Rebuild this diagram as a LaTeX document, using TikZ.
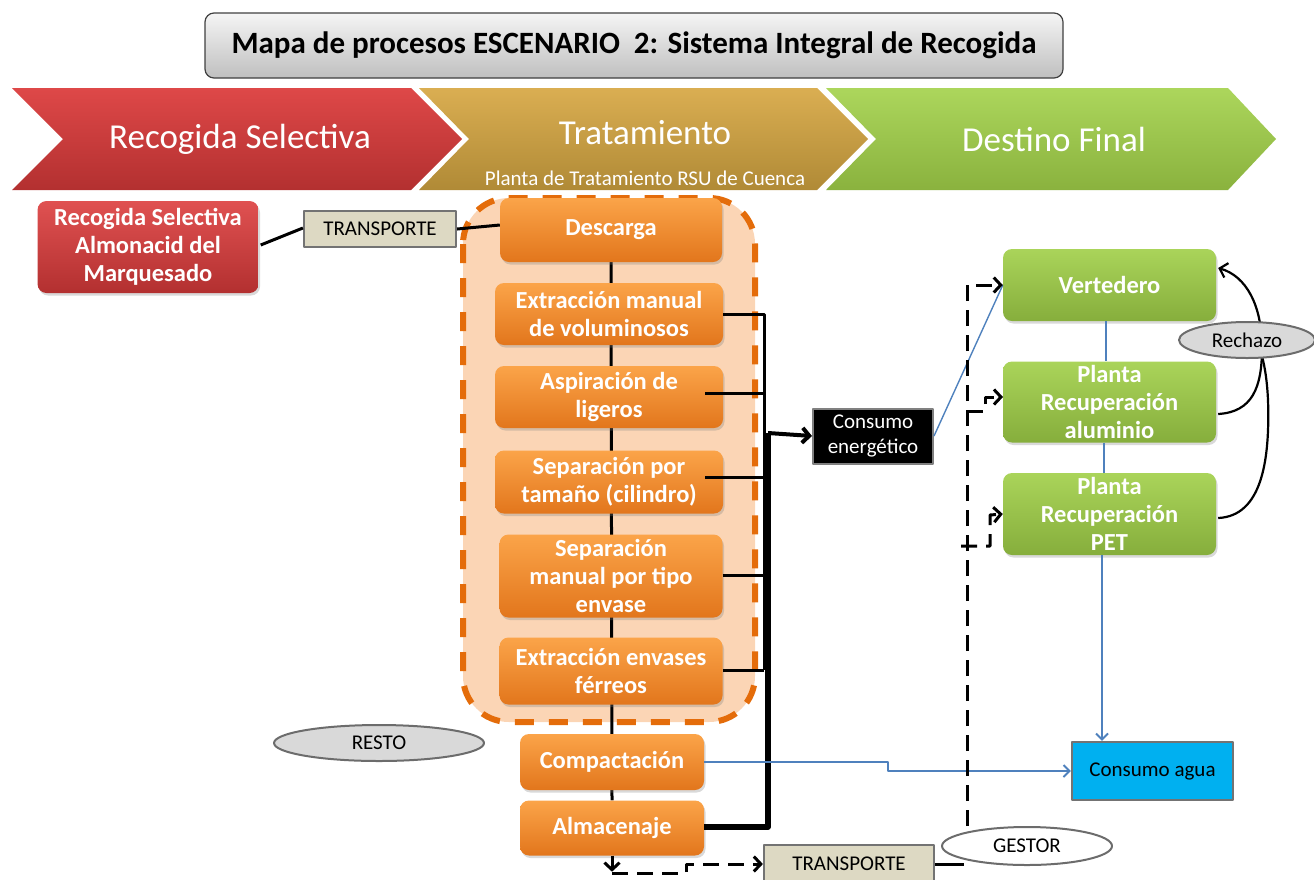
\documentclass[tikz,border=0pt]{standalone}
\usepackage{fontspec}
\setmainfont{Carlito}
\usetikzlibrary{arrows.meta,shadows,calc,backgrounds,shapes.geometric}
\definecolor{orgT}{HTML}{FBA449}
\definecolor{orgB}{HTML}{E2761C}
\definecolor{grnT}{HTML}{AAD45A}
\definecolor{grnB}{HTML}{86AE3C}
\definecolor{redT}{HTML}{DE4848}
\definecolor{redB}{HTML}{B33030}
\definecolor{tanT}{HTML}{DAAE52}
\definecolor{tanB}{HTML}{B08A36}
\definecolor{cgT}{HTML}{ACD65C}
\definecolor{cgB}{HTML}{8AB23E}
\definecolor{peach}{HTML}{FBD5B5}
\definecolor{odash}{HTML}{E46C0A}
\definecolor{blueL}{HTML}{4F81BD}
\definecolor{beige}{HTML}{DDD9C3}
\definecolor{cyanA}{HTML}{00B0F0}
\definecolor{lgray}{HTML}{D9D9D9}
\begin{document}
\begin{tikzpicture}[x=1pt,y=-1pt, line join=round,
  conn/.style={draw=black, line width=3pt},
  bus/.style={draw=black, line width=5.5pt},
  dashk/.style={draw=black, line width=3pt, dash pattern=on 16pt off 9pt},
  tipk/.style={-{Straight Barb[length=7pt,width=15pt]}},
  tipb/.style={-{Straight Barb[length=6pt,width=12pt]}},
  bl/.style={draw=blueL, line width=2pt},
  pbox/.style={rounded corners=9pt, text=white, font=\fontsize{24.5}{28}\selectfont\bfseries, align=center, inner sep=0pt, drop shadow={opacity=0.3,shadow xshift=1.5pt,shadow yshift=-2.5pt}},
  obox/.style={pbox, top color=orgT, bottom color=orgB},
  gbox/.style={pbox, top color=grnT, bottom color=grnB},
  rbox/.style={pbox, top color=redT!95!white, bottom color=redB},
  lab/.style={font=\fontsize{21}{25}\selectfont, align=center, inner sep=0pt},
  sqbox/.style={lab, draw=gray!90!black, line width=2.2pt, minimum height=36pt},
  ell/.style={ellipse, lab, draw=gray!85!black, line width=2pt},
  chev/.style={font=\fontsize{35}{38}\selectfont, text=white, inner sep=0pt}
]
\useasboundingbox (0,0) rectangle (1314,879);

% title
\node[rounded corners=9pt, top color=white!96!black, bottom color=black!25, draw=black!75, line width=1.2pt,
  minimum width=858pt, minimum height=65pt, inner sep=0pt, font=\fontsize{31}{34}\selectfont\bfseries] (title) at (634,45.5) {Mapa de procesos ESCENARIO\ \ 2: Sistema Integral de Recogida};

% chevrons
\shade[top color=redT, bottom color=redB] (12,88) -- (411,88) -- (462,139) -- (411,190) -- (12,190) -- (63,139) -- cycle;
\shade[top color=tanT, bottom color=tanB] (419,88) -- (817,88) -- (868,139) -- (817,190) -- (419,190) -- (469,139) -- cycle;
\shade[top color=cgT, bottom color=cgB] (826,88) -- (1228,88) -- (1276,139) -- (1228,190) -- (826,190) -- (876,139) -- cycle;
\node[chev] (c1) at (240,139) {Recogida Selectiva};
\node[chev] (c2) at (645,133) {Tratamiento};
\node[chev, font=\fontsize{21}{24}\selectfont] (c2b) at (645,178) {Planta de Tratamiento RSU de Cuenca};
\node[chev] (c3) at (1054,139) {Destino Final};

% left
\node[rbox, minimum width=221pt, minimum height=92pt] (rs) at (148,247) {Recogida Selectiva\\Almonacid del\\Marquesado};
\node[sqbox, fill=beige, minimum width=152pt] (tr1) at (380,229) {TRANSPORTE};

% process column
\node[obox, minimum width=222pt, minimum height=64pt] (b1) at (611,230) {Descarga};
\node[obox, minimum width=228pt, minimum height=62pt] (b2) at (609,314) {Extracción manual\\de voluminosos};
\node[obox, minimum width=228pt, minimum height=62pt] (b3) at (609,397) {Aspiración de\\ligeros};
\node[obox, minimum width=228pt, minimum height=63pt] (b4) at (609,482) {Separación por\\tamaño (cilindro)};
\node[obox, minimum width=223pt, minimum height=83pt] (b5) at (611,576) {Separación\\manual por tipo\\envase};
\node[obox, minimum width=223pt, minimum height=67pt] (b6) at (611,671) {Extracción envases\\férreos};
\node[obox, minimum width=184pt, minimum height=56pt] (b7) at (612,762) {Compactación};
\node[obox, minimum width=184pt, minimum height=55pt] (b8) at (612,828) {Almacenaje};

\begin{scope}[on background layer]
\draw[fill=peach, draw=odash, line width=6pt, dash pattern=on 19pt off 15pt, rounded corners=46pt] (463,198) rectangle (755,722);
\draw[conn] (b1.south) -- (b8.north);
\end{scope}

\node[lab, fill=black, text=white, draw=gray, line width=2pt, minimum width=120pt, minimum height=55pt] (energ) at (873,436) {Consumo\\energético};
\node[ell, fill=lgray, minimum width=210pt, minimum height=36pt] (resto) at (379,743) {RESTO};

% right column
\node[gbox, minimum width=213pt, minimum height=72pt] (vert) at (1109.5,285) {Vertedero};
\node[gbox, minimum width=213pt, minimum height=81pt] (alum) at (1109.5,402) {Planta\\Recuperación\\aluminio};
\node[gbox, minimum width=213pt, minimum height=82pt] (pet) at (1109.5,514) {Planta\\Recuperación\\PET};
\node[sqbox, fill=cyanA, minimum width=161pt, minimum height=58pt] (agua) at (1152.5,771) {Consumo agua};
\node[sqbox, fill=beige, minimum width=170pt, minimum height=38pt] (tr2) at (849,864) {TRANSPORTE};

% connectors top
\draw[conn] ($(rs.east)+(2,-2)$) -- ($(tr1.west)+(0,-1)$);
\draw[conn] (tr1.east) -- ($(b1.west)+(0,-5)$);

% bus lines
\coordinate (busT) at (764,314);
\coordinate (busB) at (764,670);
\draw[conn] (b2.east) -- (busT) -- (busB);
\draw[conn] ($(b3.center)+(96,-4)$) -- (764,393);
\draw[conn] ($(b4.center)+(96,-5)$) -- (764,477);
\draw[conn] ($(b5.east)+(0,-1)$) -- (764,575);
\draw[conn] ($(b6.east)+(0,-1)$) -- (busB);
\coordinate (bus2T) at (768,433);
\draw[bus] (bus2T) -- (768,827) -- ($(b8.east)+(0,-1)$);
\draw[bus, line width=4pt, tipk] (bus2T) -- (energ.west);

% blue
\draw[bl, line width=1.4pt] (energ.east) -- (vert.west);
\draw[bl] ($(vert.south)+(-4,0)$) -- ($(alum.north)+(-4,0)$);
\draw[bl] ($(alum.south)+(-6,0)$) -- ($(pet.north)+(-6,0)$);
\coordinate (petb) at ($(pet.south)+(-7.5,0)$);
\draw[bl, tipb] (petb) -- (petb |- agua.north);
\draw[bl, tipb] (b7.east) -- (888,762) -- (888,771) -- (agua.west);

% dashed distribution
\draw[dashk, tipk] (967,826) -- (967,285) -- (vert.west);
\draw[dashk, tipk] (967,411) -- (985,411) -- (985,397) -- (1003,397);
\draw[dashk, tipk] (961,546) -- (990,546) -- (990,515) -- (pet.west);

% rechazo
\draw[black, line width=2.2pt] ($(pet.east)+(2,4)$) .. controls (1262,516) and (1270,460) .. (1268,400) .. controls (1267,380) and (1265,368) .. (1262,356);
\draw[black, line width=2.2pt, tipk] ($(alum.east)+(2,12)$) .. controls (1252,412) and (1262,388) .. (1262,348) .. controls (1262,305) and (1246,276) .. ($(vert.east)+(2,-17)$);
\node[ell, fill=lgray, minimum width=136pt, minimum height=36pt] (rech) at (1247,340) {Rechazo};

% bottom
\node[ell, fill=white, minimum width=170pt, minimum height=38pt] (gestor) at (1027,846) {GESTOR};
\begin{scope}[on background layer]
\draw[conn] (tr2.east) -- ++(29,0);
\end{scope}
\draw[conn, tipk] (b8.south) -- ++(0,16);
\draw[dashk, tipk] (612,873) -- (686,873) -- (686,864) -- (tr2.west);
\end{tikzpicture}
\end{document}
